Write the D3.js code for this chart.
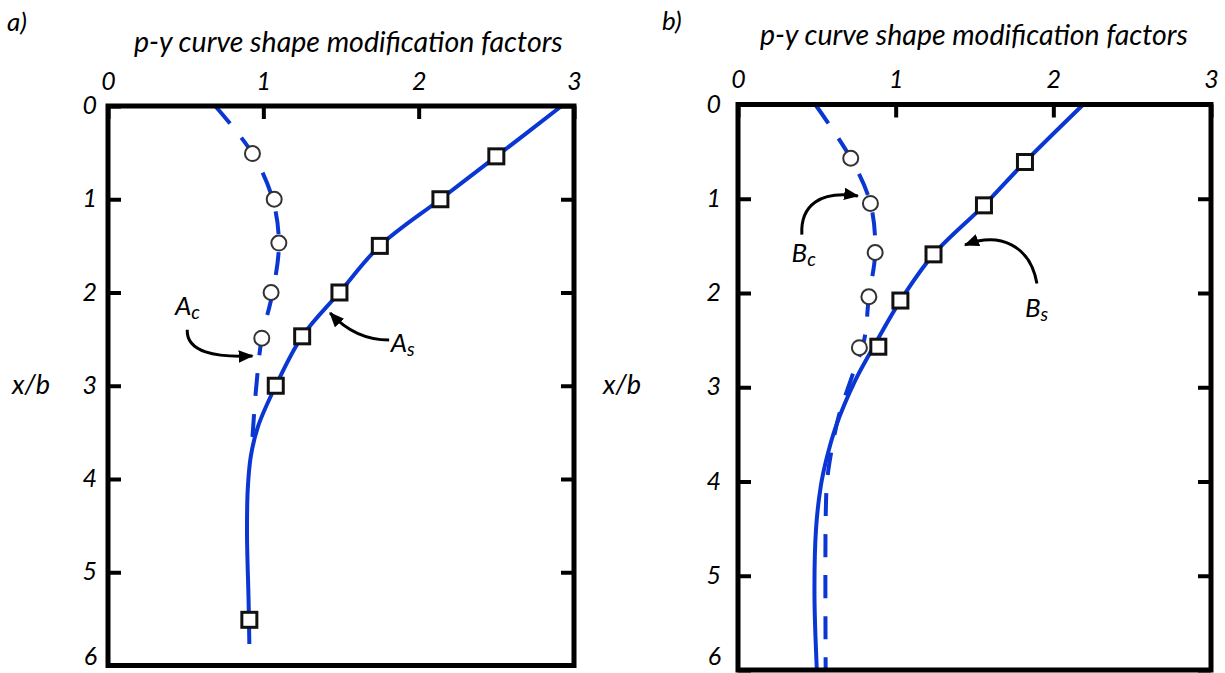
<!DOCTYPE html>
<html>
<head>
<meta charset="utf-8">
<script src="https://cdn.jsdelivr.net/npm/d3@7"></script>
<style>
  body { margin: 0; background: #fff; }
  svg text { font-family: Lato, "Open Sans", sans-serif; font-style: italic; fill: #000; }
</style>
</head>
<body>
<svg id="chart" width="1225" height="673"></svg>
<script>
// p-y curve shape modification factors vs normalised depth x/b, two panels

const factorTicks = [0, 1, 2, 3];
const depthTicks = [0, 1, 2, 3, 4, 5, 6];
const titleText = "p-y curve shape modification factors";

// panel a) - A_s (solid) and A_c (dashed)
const aSolidDepth  = [0, 0.54, 1.0, 1.5, 2.0, 2.47, 3.0, 3.44, 3.75, 4.1, 4.6, 5.3, 5.77];
const aSolidFactor = [2.92, 2.50, 2.14, 1.75, 1.49, 1.25, 1.08, 0.965, 0.92, 0.90, 0.895, 0.905, 0.91];
const aDashDepth   = [0, 0.51, 1.0, 1.47, 2.0, 2.49, 3.0, 3.55];
const aDashFactor  = [0.69, 0.93, 1.06, 1.10, 1.06, 0.99, 0.955, 0.93];
const aSquareDepth  = [0.54, 1.0, 1.5, 2.0, 2.47, 3.0, 5.51];
const aSquareFactor = [2.50, 2.14, 1.75, 1.49, 1.25, 1.08, 0.91];
const aCircleDepth  = [0.51, 1.0, 1.47, 2.0, 2.49];
const aCircleFactor = [0.93, 1.07, 1.10, 1.05, 0.99];

// panel b) - B_s (solid) and B_c (dashed)
const bSolidDepth  = [0, 0.61, 1.07, 1.59, 2.08, 2.57, 2.94, 3.42, 3.77, 4.05, 4.5, 5.2, 6.0];
const bSolidFactor = [2.19, 1.82, 1.56, 1.24, 1.03, 0.86, 0.74, 0.62, 0.56, 0.525, 0.495, 0.485, 0.50];
const bDashDepth   = [0, 0.57, 1.05, 1.57, 2.04, 2.5, 2.9, 3.3, 3.7, 4.0, 4.4, 6.0];
const bDashFactor  = [0.49, 0.715, 0.84, 0.87, 0.83, 0.80, 0.72, 0.64, 0.59, 0.565, 0.556, 0.556];
const bSquareDepth  = [0.61, 1.07, 1.59, 2.08, 2.57];
const bSquareFactor = [1.82, 1.56, 1.24, 1.03, 0.89];
const bCircleDepth  = [0.57, 1.05, 1.57, 2.04, 2.58];
const bCircleFactor = [0.715, 0.84, 0.87, 0.83, 0.77];

const blue = "#0a36d4";
const svg = d3.select("#chart");

svg.append("defs").append("marker")
    .attr("id", "head")
    .attr("viewBox", "0 0 12 10")
    .attr("refX", 11).attr("refY", 5)
    .attr("markerWidth", 15).attr("markerHeight", 13)
    .attr("markerUnits", "userSpaceOnUse")
    .attr("orient", "auto")
  .append("path")
    .attr("d", "M0,0 L12,5 L0,10 Z")
    .attr("fill", "#000");

const panels = [
  {
    tag: "a)", tagX: 7, tagY: 31,
    left: 108, right: 574, top: 106, bottom: 665.5,
    leftPad: 11, topPad: 16,
    titleX: 134, titleY: 52, titleWidth: 429,
    xbX: 12, xbY: 394,
    solid: d3.zip(aSolidFactor, aSolidDepth),
    dash: d3.zip(aDashFactor, aDashDepth),
    squares: d3.zip(aSquareFactor, aSquareDepth),
    circles: d3.zip(aCircleFactor, aCircleDepth),
    // labels and arrows, in data units (factor, depth)
    labels: [
      { main: "A", sub: "c", at: [0.431, 2.241] },
      { main: "A", sub: "s", at: [1.82, 2.635] }
    ],
    arrows: [
      [[0.510, 2.40], [0.505, 2.64], [0.69, 2.70], [0.93, 2.68]],
      [[1.81, 2.51], [1.66, 2.51], [1.53, 2.40], [1.43, 2.22]]
    ]
  },
  {
    tag: "b)", tagX: 662, tagY: 30,
    left: 738, right: 1211, top: 104.5, bottom: 670,
    leftPad: 17, topPad: 17,
    titleX: 760, titleY: 45, titleWidth: 428,
    xbX: 603, xbY: 394,
    solid: d3.zip(bSolidFactor, bSolidDepth),
    dash: d3.zip(bDashFactor, bDashDepth),
    squares: d3.zip(bSquareFactor, bSquareDepth),
    circles: d3.zip(bCircleFactor, bCircleDepth),
    labels: [
      { main: "B", sub: "c", at: [0.34, 1.671] },
      { main: "B", sub: "s", at: [1.82, 2.25] }
    ],
    arrows: [
      [[0.405, 1.38], [0.395, 1.07], [0.52, 0.91], [0.76, 0.97]],
      [[1.896, 1.90], [1.853, 1.49], [1.66, 1.35], [1.44, 1.49]]
    ]
  }
];

panels.forEach(drawPanel);

function drawPanel(p) {
    const x = d3.scaleLinear().domain([0, 3]).range([p.left, p.right]);
    const y = d3.scaleLinear().domain([0, 6]).range([p.top, p.bottom]);
    const g = svg.append("g");

    const line = d3.line()
        .x(d => x(d[0]))
        .y(d => y(d[1]))
        .curve(d3.curveCatmullRom.alpha(0.5));

    g.append("path")
        .datum(p.dash)
        .attr("d", line)
        .attr("fill", "none")
        .attr("stroke", blue)
        .attr("stroke-width", 4)
        .attr("stroke-dasharray", "23,18");

    g.append("path")
        .datum(p.solid)
        .attr("d", line)
        .attr("fill", "none")
        .attr("stroke", blue)
        .attr("stroke-width", 4);

    g.selectAll(".circ")
        .data(p.circles)
        .enter().append("circle")
        .attr("cx", d => x(d[0]))
        .attr("cy", d => y(d[1]))
        .attr("r", 7.5)
        .attr("fill", "#fff")
        .attr("stroke", "#333")
        .attr("stroke-width", 2);

    g.selectAll(".sq")
        .data(p.squares)
        .enter().append("rect")
        .attr("x", d => x(d[0]) - 7.5)
        .attr("y", d => y(d[1]) - 7.5)
        .attr("width", 15)
        .attr("height", 15)
        .attr("fill", "#fff")
        .attr("stroke", "#111")
        .attr("stroke-width", 3);

    // axes: ticks point inwards, labels only on top and left
    const styleAxis = sel => {
        sel.attr("font-size", null).attr("font-family", null);
        sel.select(".domain").remove();
        sel.selectAll(".tick line").attr("stroke", "#000").attr("stroke-width", 4);
        sel.selectAll(".tick text").style("font-size", "25px").attr("fill", "#000");
    };

    g.append("g")
        .attr("transform", `translate(0,${p.top})`)
        .call(d3.axisTop(x).tickValues(factorTicks).tickSize(-13).tickPadding(p.topPad).tickFormat(d3.format("d")))
        .call(styleAxis);

    const leftAxis = g.append("g")
        .attr("transform", `translate(${p.left},0)`)
        .call(d3.axisLeft(y).tickValues(depthTicks).tickSize(-13).tickPadding(p.leftPad).tickFormat(d3.format("d")))
        .call(styleAxis);
    // keep the bottom label inside the picture
    leftAxis.selectAll(".tick text")
        .attr("y", d => Math.min(0, 657 - y(d)))
        .attr("dy", "0.3em");

    g.append("g")
        .attr("transform", `translate(${p.right},0)`)
        .call(d3.axisRight(y).tickValues(depthTicks).tickSize(-13).tickFormat(""))
        .call(styleAxis);

    g.append("rect")
        .attr("x", p.left)
        .attr("y", p.top)
        .attr("width", p.right - p.left)
        .attr("height", p.bottom - p.top)
        .attr("fill", "none")
        .attr("stroke", "#000")
        .attr("stroke-width", 5);

    // annotations
    p.arrows.forEach(a => {
        const pts = a.map(d => [x(d[0]), y(d[1])]);
        const path = d3.path();
        path.moveTo(...pts[0]);
        path.bezierCurveTo(...pts[1], ...pts[2], ...pts[3]);
        g.append("path")
            .attr("d", path.toString())
            .attr("fill", "none")
            .attr("stroke", "#000")
            .attr("stroke-width", 3)
            .attr("marker-end", "url(#head)");
    });

    p.labels.forEach(l => {
        const t = g.append("text")
            .attr("x", x(l.at[0]))
            .attr("y", y(l.at[1]))
            .style("font-size", "26px");
        t.append("tspan").text(l.main);
        t.append("tspan").attr("dy", 4).style("font-size", "19px").text(l.sub);
    });

    // titles
    const title = svg.append("text")
        .attr("x", p.titleX)
        .attr("y", p.titleY)
        .style("font-size", "22px")
        .text(titleText);
    const w = title.node().getComputedTextLength();
    title.style("font-size", (22 * p.titleWidth / w) + "px");

    svg.append("text")
        .attr("x", p.tagX)
        .attr("y", p.tagY)
        .style("font-size", "26px")
        .text(p.tag);

    svg.append("text")
        .attr("x", p.xbX)
        .attr("y", p.xbY)
        .style("font-size", "27px")
        .text("x/b");
}
</script>
</body>
</html>
